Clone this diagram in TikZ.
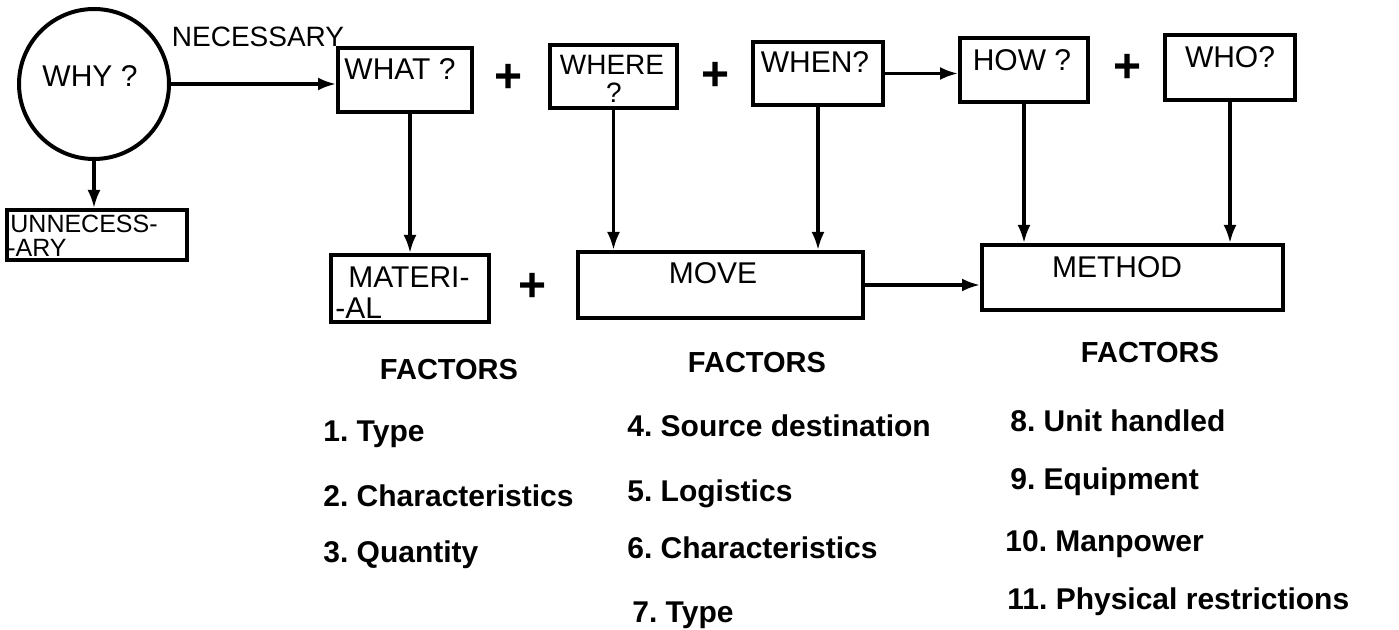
\documentclass[tikz,border=0pt]{standalone}
\usepackage{fontspec}
\setmainfont{Liberation Sans}
\usetikzlibrary{arrows.meta,fit}
\frenchspacing
\begin{document}
\begin{tikzpicture}[x=0.5pt,y=-0.5pt,
  box/.style={draw, line width=2pt, rectangle, inner sep=0pt},
  arr/.style={line width=1.6pt, -{Latex[length=9pt,width=6.5pt]}},
  lbl/.style={font=\fontsize{15pt}{15pt}\selectfont, inner sep=0pt},
  plus/.style={font=\fontsize{24pt}{24pt}\selectfont\bfseries, inner sep=0pt},
  fac/.style={font=\fontsize{14.5pt}{15pt}\selectfont\bfseries, inner sep=0pt, anchor=base},
  item/.style={font=\fontsize{15pt}{15pt}\selectfont\bfseries, inner sep=0pt, anchor=base west}]
\useasboundingbox (0,0) rectangle (1399,630);
\fill[white] (0,0) rectangle (1399,630);

% circle
\node[draw, circle, line width=2pt, minimum size=75pt, inner sep=0pt] (why) at (94,84) {};
\node[lbl] (whyT) at (90,76) {WHY ?};
\node[lbl, font=\fontsize{14pt}{14pt}\selectfont] (necT) at (258,37) {NECESSARY};

% boxes
\node[box, fit={(7,210) (187,260)}] (unn) {};
\node[box, fit={(338,48) (472,112)}] (what) {};
\node[box, fit={(550,45) (677,108)}] (where) {};
\node[box, fit={(753,42) (883,105)}] (when) {};
\node[box, fit={(960,38) (1088,102)}] (how) {};
\node[box, fit={(1165,35) (1295,100)}] (who) {};
\node[box, fit={(331,255) (489,322)}] (material) {};
\node[box, fit={(578,252) (863,318)}] (move) {};
\node[box, fit={(982,245) (1283,310)}] (method) {};

% labels in boxes
\node[lbl, font=\fontsize{12.5pt}{12.5pt}\selectfont, anchor=west] (unnT1) at (10,224) {UNNECESS-};
\node[lbl, font=\fontsize{12.5pt}{12.5pt}\selectfont, anchor=west] (unnT2) at (7,248) {-ARY};
\node[lbl] (whatT) at (400,69) {WHAT ?};
\node[lbl, font=\fontsize{14pt}{14pt}\selectfont] (whereT1) at (612,65) {WHERE};
\node[lbl, font=\fontsize{14pt}{14pt}\selectfont] (whereT2) at (614,93) {?};
\node[lbl] (whenT) at (815,62) {WHEN?};
\node[lbl] (howT) at (1022,60) {HOW ?};
\node[lbl] (whoT) at (1230,57) {WHO?};
\node[lbl, anchor=west] (matT1) at (348,277) {MATERI-};
\node[lbl, anchor=west] (matT2) at (335,308) {-AL};
\node[lbl] (moveT) at (713,273) {MOVE};
\node[lbl] (methodT) at (1117,267) {METHOD};

% plus signs
\node[plus] (p1) at (509,78) {+};
\node[plus] (p2) at (716,76) {+};
\node[plus] (p3) at (1128,68) {+};
\node[plus] (p4) at (533,287) {+};

% connectors
\draw[arr] (why.east) -- (what.west |- why.east);
\draw[arr] (why.south) -- (unn.north -| why.south);
\draw[arr] (material.north |- what.south) -- (material.north);
\draw[arr] (where.south) -- (where.south |- move.north);
\draw[arr] (when.south) -- (when.south |- move.north);
\draw[arr] (when.east) -- (how.west |- when.east);
\draw[arr] (how.south) -- (how.south |- method.north);
\draw[arr] (who.south) -- (who.south |- method.north);
\draw[arr] (move.east) -- (method.west |- move.east);

% factors
\node[fac] (f1) at (449,380) {FACTORS};
\node[fac] (f2) at (757,373) {FACTORS};
\node[fac] (f3) at (1150,363) {FACTORS};

\node[item] (i1) at (323,442) {1. Type};
\node[item] (i2) at (323,507) {2. Characteristics};
\node[item] (i3) at (323,563) {3. Quantity};
\node[item] (i4) at (627,437) {4. Source destination};
\node[item] (i5) at (627,502) {5. Logistics};
\node[item] (i6) at (627,559) {6. Characteristics};
\node[item] (i7) at (632,623) {7. Type};
\node[item] (i8) at (1010,432) {8. Unit handled};
\node[item] (i9) at (1010,490) {9. Equipment};
\node[item] (i10) at (1005,552) {10. Manpower};
\node[item] (i11) at (1007,610) {11. Physical restrictions};
\end{tikzpicture}
\end{document}
